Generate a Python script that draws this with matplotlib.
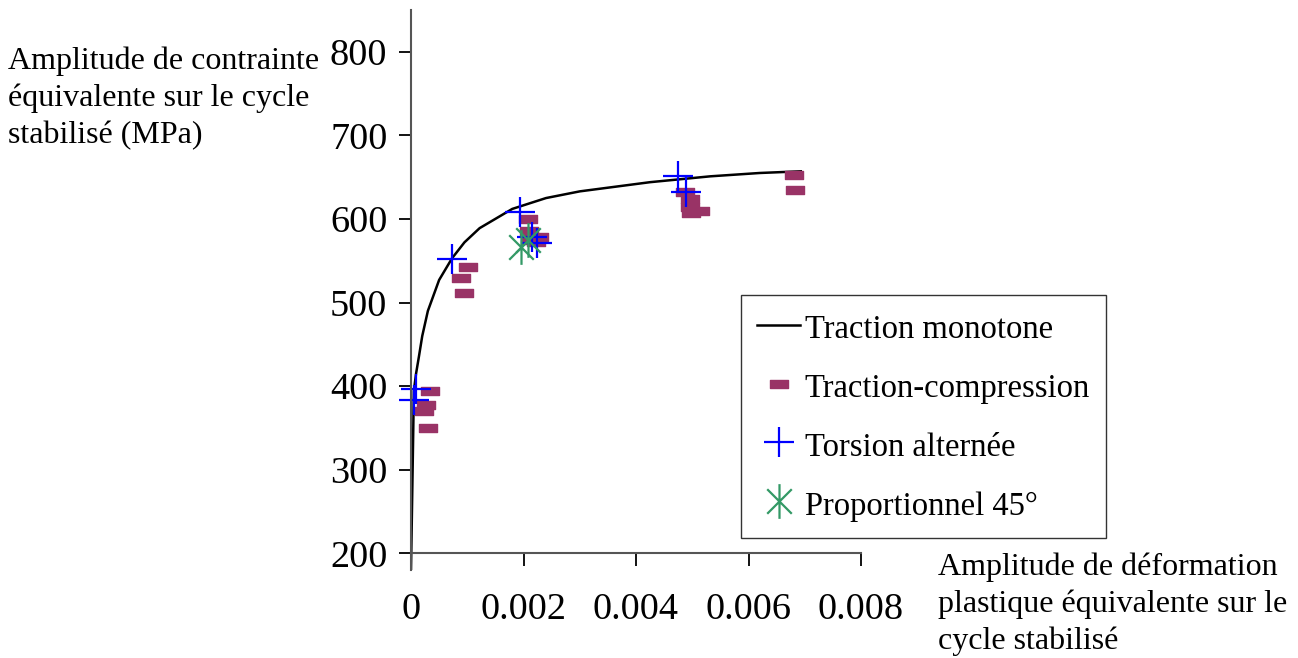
import matplotlib.pyplot as plt
import numpy as np
from matplotlib.path import Path

plt.rcParams["font.family"] = ["Liberation Serif", "DejaVu Serif"]

# monotonic tensile curve
mono_eps = [0, 0.00002, 0.00004, 0.00005, 0.00009, 0.00014, 0.0002, 0.0003, 0.0005, 0.00073,
            0.00095, 0.00122, 0.0018, 0.0024, 0.003, 0.00425, 0.00532, 0.0062, 0.00693]
mono_sig = [180, 263, 347, 394, 415, 435, 460, 490, 527, 553,
            572, 589, 612, 625, 633, 644, 651, 655, 657]

# traction-compression
tc_eps = [0.00034, 0.00027, 0.00023, 0.0003, 0.00101, 0.00089, 0.00094,
          0.00208, 0.0021, 0.00228, 0.00222, 0.00212,
          0.00487, 0.00496, 0.00496, 0.00498, 0.00514, 0.00681, 0.00683]
tc_sig = [394, 377, 370, 350, 542, 529, 512,
          600, 585, 578, 572, 575,
          632, 624, 614, 607, 610, 653, 635]

# torsion alternee
tor_eps = [0.00009, 0.00005, 0.00073, 0.00194, 0.00215, 0.00224, 0.00475, 0.00488]
tor_sig = [396, 383, 552, 608, 578, 571, 651, 632]

# proportionnel 45
prop_eps = [0.00196, 0.00208]
prop_sig = [566, 575]

x_ticks = [0, 0.002, 0.004, 0.006, 0.008]
x_labels = ["0", "0.002", "0.004", "0.006", "0.008"]
y_ticks = [200, 300, 400, 500, 600, 700, 800]

dash = Path([(-1, -0.42), (1, -0.42), (1, 0.42), (-1, 0.42), (-1, -0.42)],
            [Path.MOVETO, Path.LINETO, Path.LINETO, Path.LINETO, Path.CLOSEPOLY])
s = np.sqrt(0.5)
aster = Path([(0, -1), (0, 1), (-s, -s), (s, s), (-s, s), (s, -s)],
             [Path.MOVETO, Path.LINETO] * 3)

fig = plt.figure(figsize=(12.98, 6.58), dpi=100)
ax = fig.add_axes([411 / 1298, 1 - 570 / 658, 450 / 1298, 560 / 658])

ax.plot(mono_eps, mono_sig, color="black", lw=1.8, label="Traction monotone")
ax.plot(tc_eps, tc_sig, ls="none", marker=dash, ms=12.5, color="#993366",
        mec="#993366", label="Traction-compression", clip_on=False)
ax.plot(tor_eps, tor_sig, ls="none", marker="+", ms=21, mew=1.6, color="#0000ff",
        label="Torsion alternée", clip_on=False)
ax.plot(prop_eps, prop_sig, ls="none", marker=aster, ms=25, mew=1.6, color="#339966",
        mec="#339966", mfc="none", label="Proportionnel 45°", clip_on=False)

ax.set_xlim(0, 0.008)
ax.set_ylim(180, 850)
ax.spines["top"].set_visible(False)
ax.spines["right"].set_visible(False)
ax.spines["bottom"].set_position(("data", 200))
for side in ("left", "bottom"):
    ax.spines[side].set_color("#555555")
    ax.spines[side].set_linewidth(1.5)

ax.set_xticks(x_ticks)
ax.set_xticklabels(x_labels)
ax.set_yticks(y_ticks)
ax.tick_params(axis="x", direction="out", length=9, width=1.3, labelsize=27.5, pad=19)
ax.tick_params(axis="y", direction="out", length=9, width=1.3, labelsize=27.5, pad=8)

fig.text(8 / 1298, 1 - 46 / 658, "Amplitude de contrainte\néquivalente sur le cycle\nstabilisé (MPa)",
         fontsize=23, va="top", ha="left", linespacing=1.36)
fig.text(938 / 1298, 1 - 553 / 658,
         "Amplitude de déformation\nplastique équivalente sur le\ncycle stabilisé",
         fontsize=23, va="top", ha="left", linespacing=1.33)

leg = ax.legend(loc="upper left", bbox_to_anchor=(741 / 1298, 1 - 295 / 658),
                bbox_transform=fig.transFigure, borderaxespad=0, fontsize=23.5,
                frameon=True, fancybox=False, edgecolor="black", handlelength=1.3,
                handleheight=1.1, handletextpad=0.15, labelspacing=0.77, borderpad=0.5)
leg.get_frame().set_linewidth(1.0)

fig.savefig("out.png", dpi=100, facecolor="white")
